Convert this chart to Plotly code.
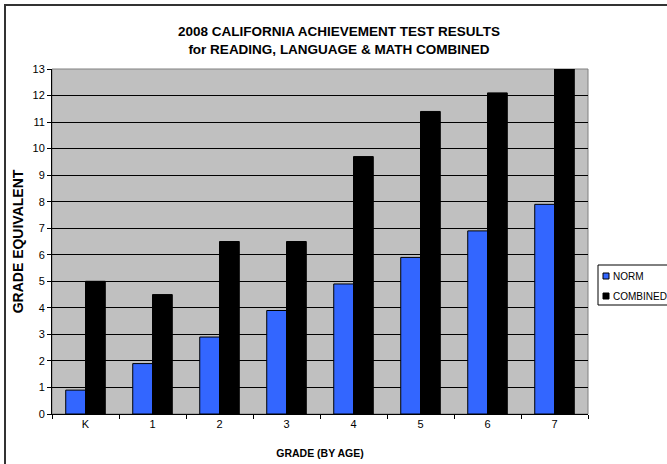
import plotly.graph_objects as go

grades = ["K", "1", "2", "3", "4", "5", "6", "7"]
norm = [0.9, 1.9, 2.9, 3.9, 4.9, 5.9, 6.9, 7.9]
combined = [5.0, 4.5, 6.5, 6.5, 9.7, 11.4, 12.1, 13.0]
series_names = ["NORM", "COMBINED"]
series_colors = ["#3366FF", "#000000"]

W, H = 667, 464
L, R, T, B = 52, 79, 69, 50
PW, PH = W - L - R, H - T - B


def px(x):
    return (x - L) / PW


def py(y):
    return (H - B - y) / PH


fig = go.Figure()
for name, vals, col in zip(series_names, [norm, combined], series_colors):
    fig.add_trace(go.Bar(
        x=grades, y=vals, name=name,
        marker=dict(color=col, line=dict(color="#000000", width=1)),
        showlegend=False,
    ))

shapes = [
    dict(type="rect", xref="paper", yref="paper", x0=0, x1=1, y0=0, y1=1,
         line=dict(color="#808080", width=1), layer="below"),
    dict(type="rect", xref="paper", yref="paper",
         x0=px(5), x1=1.3, y0=-0.3, y1=py(5),
         line=dict(color="#333333", width=2), layer="above"),
    # legend box
    dict(type="rect", xref="paper", yref="paper",
         x0=px(598), x1=px(690), y0=py(305), y1=py(265),
         line=dict(color="black", width=1), fillcolor="white", layer="above"),
]
annotations = []
row_y = [276, 296]
for name, col, ry in zip(series_names, series_colors, row_y):
    shapes.append(dict(type="rect", xref="paper", yref="paper",
                       x0=px(603), x1=px(609), y0=py(ry + 3), y1=py(ry - 3),
                       line=dict(color="black", width=1), fillcolor=col, layer="above"))
    annotations.append(dict(text=name, xref="paper", yref="paper",
                            x=px(611), y=py(ry), xanchor="left", yanchor="middle",
                            showarrow=False, font=dict(size=10)))

fig.update_layout(
    width=W, height=H,
    margin=dict(l=L, r=R, t=T, b=B, autoexpand=False),
    paper_bgcolor="white",
    plot_bgcolor="#C0C0C0",
    barmode="group",
    bargap=0.41,
    bargroupgap=0,
    showlegend=False,
    font=dict(family="Liberation Sans, Arial", size=11, color="black"),
    title=dict(
        text="<b>2008 CALIFORNIA ACHIEVEMENT TEST RESULTS<br>for READING, LANGUAGE & MATH COMBINED</b>",
        x=339 / W, xref="container", xanchor="center",
        y=1 - 36 / H, yref="container", yanchor="middle",
        font=dict(size=13.5),
    ),
    xaxis=dict(
        showline=True, linecolor="black", linewidth=1,
        ticks="outside", tickson="boundaries", ticklen=4, tickcolor="black",
        showgrid=False,
        title=dict(text="<b>GRADE (BY AGE)</b>", font=dict(size=10.5), standoff=20),
        tickfont=dict(size=11),
    ),
    yaxis=dict(
        range=[0, 13], dtick=1, tick0=0,
        showline=True, linecolor="black", linewidth=1,
        ticks="outside", ticklen=4, tickcolor="black",
        showgrid=True, gridcolor="black", gridwidth=1,
        zeroline=False,
        title=dict(text="<b>GRADE EQUIVALENT</b>", font=dict(size=14), standoff=5),
        tickfont=dict(size=11),
    ),
    shapes=shapes,
    annotations=annotations,
)

fig.write_html("out.html", config={"displayModeBar": False},
               post_script="document.body.style.margin='0px';")
